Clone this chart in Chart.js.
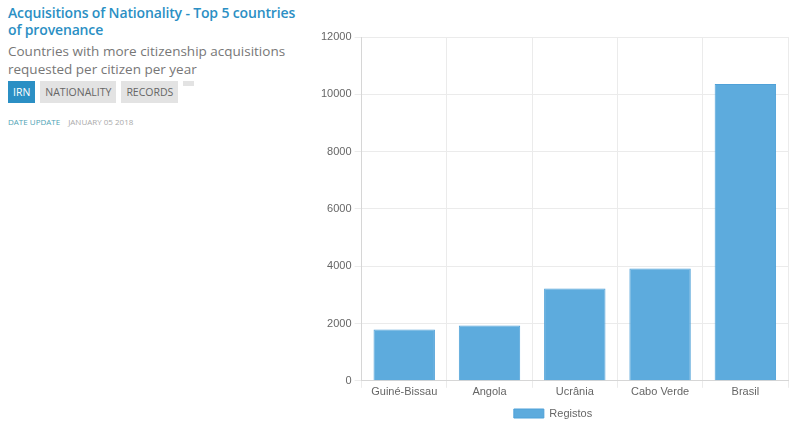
<!DOCTYPE html>
<html>
<head>
<meta charset="utf-8">
<script src="https://cdn.jsdelivr.net/npm/chart.js@4/dist/chart.umd.min.js"></script>
<style>
  body { margin: 0; background: #fff; font-family: "Open Sans", sans-serif; }
  #info { position: absolute; left: 8px; top: 4px; width: 300px; }
  h1 { margin: 0; font-size: 14px; line-height: 17px; font-weight: 600; color: #2b8fc4; letter-spacing: -0.15px; white-space: nowrap; }
  h2 { margin: 4px 0 0 0; font-size: 13.5px; line-height: 18px; font-weight: 400; color: #777; }
  .btns { margin-top: 3px; height: 22px; }
  .btn { float: left; height: 22px; line-height: 22px; padding: 0 5px; margin-right: 5px; font-size: 10.5px; color: #666; background: #e3e3e3; }
  .btn.on { background: #2b8fc4; color: #fff; }
  .btn.mini { padding: 0; width: 11px; height: 5px; background: #e3e3e3; }
  .upd { margin-top: 13px; font-size: 8px; color: #aaa; }
  .upd span { color: #4fa3b5; margin-right: 8px; }
  #box { position: absolute; left: 318px; top: 0; width: 482px; height: 438px; }
</style>
</head>
<body>
<div id="info">
  <h1>Acquisitions of Nationality - Top 5 countries<br>of provenance</h1>
  <h2>Countries with more citizenship acquisitions<br>requested per citizen per year</h2>
  <div class="btns">
    <div class="btn on">IRN</div>
    <div class="btn">NATIONALITY</div>
    <div class="btn">RECORDS</div>
    <div class="btn mini"></div>
  </div>
  <div class="upd"><span>DATE UPDATE</span>JANUARY 05 2018</div>
</div>
<div id="box"><canvas id="myChart"></canvas></div>
<script>
// dados
const paises = ['Guiné-Bissau', 'Angola', 'Ucrânia', 'Cabo Verde', 'Brasil']
const registos = [1790, 1930, 3220, 3920, 10360]

const ctx = document.getElementById('myChart')
const myChart = new Chart(ctx, {
  type: 'bar',
  data: {
    labels: paises,
    datasets: [{
      label: 'Registos',
      data: registos,
      backgroundColor: '#5dabdd',
      borderColor: '#4fa1d8',
      borderWidth: 1,
      categoryPercentage: 0.8,
      barPercentage: 0.9
    }]
  },
  options: {
    responsive: true,
    maintainAspectRatio: false,
    animation: false,
    layout: { padding: { top: 37, right: 12, left: 0, bottom: 9 } },
    plugins: {
      legend: {
        position: 'bottom',
        labels: {
          boxWidth: 30,
          boxHeight: 9,
          padding: 11,
          color: '#666',
          font: { family: 'Liberation Sans, Arial', size: 11 }
        }
      },
      tooltip: { enabled: false }
    },
    scales: {
      x: {
        grid: { color: '#ebebeb', offset: true, tickLength: 7 },
        border: { color: '#d6d6d6' },
        ticks: { color: '#666', padding: -2, font: { family: 'Liberation Sans, Arial', size: 11 } }
      },
      y: {
        min: 0,
        max: 12000,
        grid: { color: '#ebebeb', tickLength: 7 },
        border: { color: '#d6d6d6' },
        ticks: {
          stepSize: 2000,
          color: '#666',
          font: { family: 'Liberation Sans, Arial', size: 11 },
          callback: (v) => String(v)
        }
      }
    }
  }
})
</script>
</body>
</html>
